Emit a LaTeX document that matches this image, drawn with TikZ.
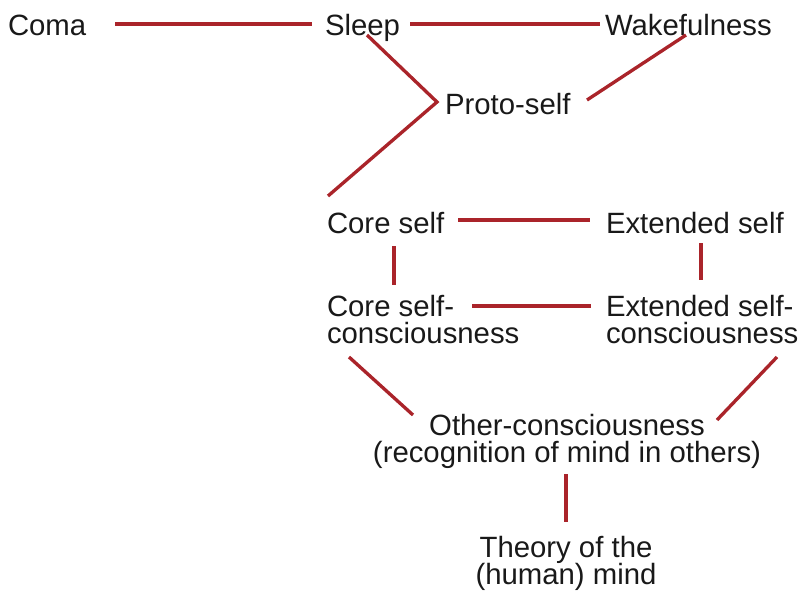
\documentclass[tikz,border=0pt]{standalone}
\usepackage{fontspec}
\setmainfont{Liberation Sans}
\definecolor{linkred}{RGB}{170,36,42}
\newcommand\lefttwo[2]{\vtop{\lineskiplimit=-20pt\halign{##\hfil\cr #1\cr #2\cr}}}
\newcommand\centertwo[2]{\vtop{\lineskiplimit=-20pt\halign{\hfil##\hfil\cr #1\cr #2\cr}}}
\begin{document}
\begin{tikzpicture}[x=0.75pt,y=-0.75pt,
  lbl/.style={inner sep=0pt, outer sep=0pt, font=\fontsize{22}{20.6}\selectfont, text=black!90},
  conn/.style={draw=linkred, line width=2.5pt}]
\useasboundingbox (0,0) rectangle (804,590);
% nodes
\node[lbl, anchor=base west] (coma)   at (8,35)    {Coma};
\node[lbl, anchor=base west] (sleep)  at (325,35)  {Sleep};
\node[lbl, anchor=base west] (wake)   at (605,35)  {Wakefulness};
\node[lbl, anchor=base west] (proto)  at (445,114) {Proto-self};
\node[lbl, anchor=base west] (core)   at (327,233) {Core self};
\node[lbl, anchor=base west] (ext)    at (606,233) {Extended self};
\node[lbl, anchor=base west] (cores)  at (327,316) {\lefttwo{Core self-}{consciousness}};
\node[lbl, anchor=base west] (exts)   at (606,316) {\lefttwo{Extended self-}{consciousness}};
\node[lbl, anchor=base]      (other)  at (567,435) {\centertwo{Other-consciousness}{(recognition of mind in others)}};
\node[lbl, anchor=base]      (theory) at (566,557) {\centertwo{Theory of the}{(human) mind}};
% connectors
\draw[conn] ([shift={(107,-11)}]coma.base west) -- ([shift={(-13,-11)}]sleep.base west);
\draw[conn] ([shift={(85,-11)}]sleep.base west) -- ([shift={(-5,-11)}]wake.base west);
\draw[conn] ([shift={(42,0)}]sleep.base west) -- ([shift={(-8,-12)}]proto.base west) -- ([shift={(1,-37)}]core.base west);
\draw[conn] ([shift={(81,0)}]wake.base west) -- ([shift={(142,-14)}]proto.base west);
\draw[conn] ([shift={(131,-13)}]core.base west) -- ([shift={(-16,-13)}]ext.base west);
\draw[conn] ([shift={(67,13)}]core.base west) -- ([shift={(67,-31)}]cores.base west);
\draw[conn] ([shift={(95,10)}]ext.base west) -- ([shift={(95,-36)}]exts.base west);
\draw[conn] ([shift={(145,-10)}]cores.base west) -- ([shift={(-15,-10)}]exts.base west);
\draw[conn] ([shift={(22,41)}]cores.base west) -- ([shift={(-154,-20)}]other.base);
\draw[conn] ([shift={(171,41)}]exts.base west) -- ([shift={(150,-15)}]other.base);
\draw[conn] ([shift={(-1,39)}]other.base) -- ([shift={(0,-35)}]theory.base);
\end{tikzpicture}
\end{document}
